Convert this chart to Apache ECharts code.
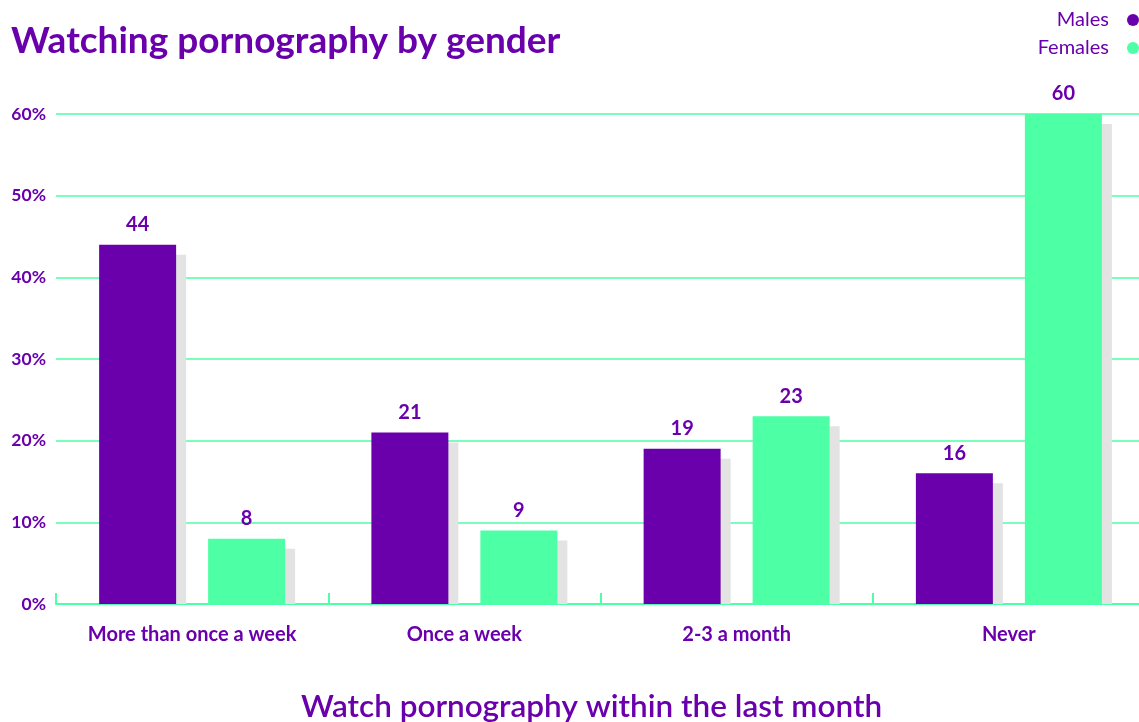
<!DOCTYPE html>
<html lang="en">
<head>
<meta charset="UTF-8">
<title>Watching pornography by gender</title>
<script src="https://cdn.jsdelivr.net/npm/echarts@6/dist/echarts.min.js"></script>
<style>
  html, body { margin: 0; padding: 0; background: #fff; }
  #chart { width: 1139px; height: 722px; }
</style>
</head>
<body>
<div id="chart"></div>
<script>
  // data
  var categories = ['More than once a week', 'Once a week', '2-3 a month', 'Never'];
  var males = [44, 21, 19, 16];
  var females = [8, 9, 23, 60];

  var purple = '#6a00ac';
  var green = '#4dffa5';
  var shadowGrey = '#e3e3e3';
  var barW = 77;
  var barGapPx = 32;
  var fontFam = 'Lato, "Open Sans", sans-serif';

  // grey drop-shadow drawn behind each bar, offset 10px right/down
  function shadowSeries(values, side) {
    return {
      type: 'custom',
      z: 1,
      silent: true,
      data: values.map(function (v, i) { return [i, v]; }),
      encode: { x: 0, y: 1 },
      renderItem: function (params, api) {
        var top = api.coord([api.value(0), api.value(1)]);
        var base = api.coord([api.value(0), 0]);
        var off = side * (barW + barGapPx) / 2;
        return {
          type: 'rect',
          shape: {
            x: top[0] + off - barW / 2 + 10,
            y: top[1] + 10,
            width: barW,
            height: base[1] - top[1] - 10
          },
          style: { fill: shadowGrey }
        };
      }
    };
  }

  var labelStyle = {
    show: true,
    position: 'top',
    distance: 10,
    color: purple,
    fontFamily: fontFam,
    fontWeight: 'bold',
    fontSize: 20
  };

  var chart = echarts.init(document.getElementById('chart'));
  chart.setOption({
    animation: false,
    title: [{
      text: 'Watching pornography by gender',
      left: 6,
      top: 18,
      textStyle: { color: purple, fontFamily: fontFam, fontWeight: 'bold', fontSize: 37 }
    }, {
      text: 'Watch pornography within the last month',
      left: 296,
      top: 686,
      textStyle: { color: purple, fontFamily: fontFam, fontWeight: 600, fontSize: 31.5 }
    }],
    legend: {
      orient: 'vertical',
      right: -5,
      top: 5,
      align: 'right',
      icon: 'circle',
      itemWidth: 12,
      itemHeight: 12,
      itemGap: 8,
      textStyle: { color: purple, fontFamily: fontFam, fontSize: 20, padding: [0, 13, 0, 0] },
      data: ['Males', 'Females']
    },
    grid: { left: 56, width: 1089, top: 114, bottom: 118, outerBoundsMode: 'none' },
    xAxis: {
      type: 'category',
      data: categories,
      axisLine: { lineStyle: { color: green, width: 2 } },
      axisTick: { show: true, inside: true, length: 11, lineStyle: { color: green, width: 2 } },
      axisLabel: { interval: 0, margin: 21, color: purple, fontFamily: fontFam, fontWeight: 'bold', fontSize: 20 }
    },
    yAxis: {
      type: 'value',
      min: 0,
      max: 60,
      interval: 10,
      axisLine: { show: false },
      axisTick: { show: false },
      axisLabel: { margin: 10, formatter: '{value}%', color: purple, fontFamily: fontFam, fontWeight: 'bold', fontSize: 17.5 },
      splitLine: { lineStyle: { color: green, width: 1.5 } }
    },
    series: [
      shadowSeries(males, -1),
      shadowSeries(females, 1),
      {
        name: 'Males',
        type: 'bar',
        z: 3,
        data: males,
        barWidth: barW,
        barGap: (barGapPx / barW * 100) + '%',
        itemStyle: { color: purple },
        label: labelStyle
      },
      {
        name: 'Females',
        type: 'bar',
        z: 3,
        data: females,
        barWidth: barW,
        itemStyle: { color: green },
        label: labelStyle
      }
    ]
  });
</script>
</body>
</html>
